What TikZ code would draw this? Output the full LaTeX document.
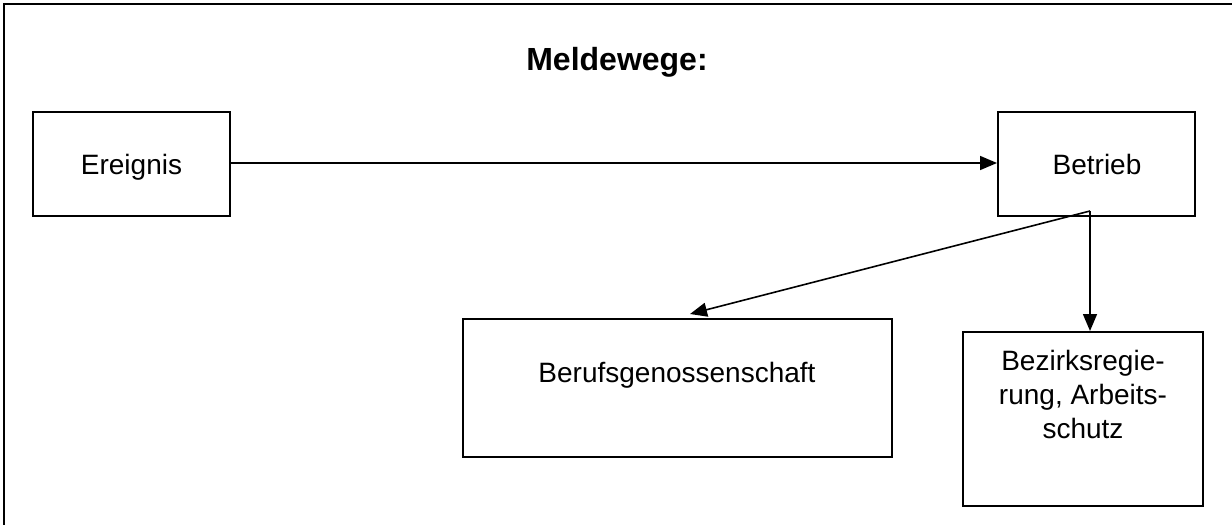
\documentclass[tikz,border=0pt]{standalone}
\usepackage{fontspec}
\setmainfont{Liberation Sans}
\usetikzlibrary{arrows.meta}
\begin{document}
\begin{tikzpicture}[x=1pt,y=-1pt,
  box/.style={draw=black,line width=2pt,minimum width=#1,inner sep=0pt},
  lbl/.style={inner sep=0pt,font=\fontsize{28}{34}\selectfont,align=center},
  arr/.style={line width=1.6pt,-{Triangle[length=17pt,width=14pt]}},
  frameline/.style={line width=2.4pt}]
  \useasboundingbox (0,0) rectangle (1232,525);
  % open frame: top and left edges only
  \draw[frameline] (1232,4) -- (4,4) -- (4,525);
  % title
  \node[inner sep=0pt,anchor=base,font=\fontsize{32}{38}\selectfont\bfseries] (title) at (617,70) {Meldewege:};
  % boxes
  \node[box=197pt,minimum height=104pt] (ev) at (131.5,164) {};
  \node[box=197pt,minimum height=104pt] (bt) at (1096.5,164) {};
  \node[box=429pt,minimum height=138pt] (bg) at (677.5,388) {};
  \node[box=240pt,minimum height=174pt] (br) at (1083,419) {};
  % box texts
  \node[lbl,anchor=base] (evt) at (131.5,174) {Ereignis};
  \node[lbl,anchor=base] (btt) at (1097,174) {Betrieb};
  \node[lbl,anchor=base] (bgt) at (677,382) {Berufsgenossenschaft};
  \node[lbl,anchor=north] (brt) at (1083,350.5) {Bezirksregie-\\rung, Arbeits-\\schutz};
  % connectors
  \coordinate (split) at (1090,211);
  \coordinate (bgin) at (690,314);
  \draw[arr] (ev.east |- 0,163) -- (bt.west |- 0,163);
  \draw[arr] (split) -- (bgin);
  \draw[arr] (split) -- (split |- br.north);
\end{tikzpicture}
\end{document}
